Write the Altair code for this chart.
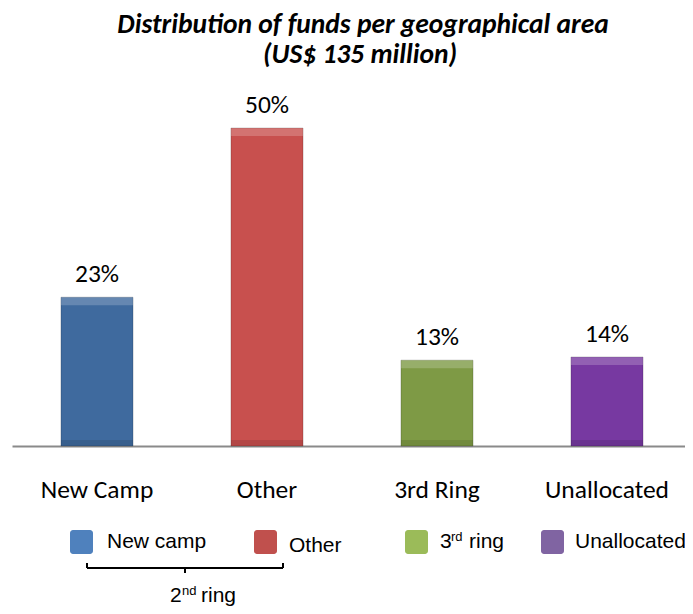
import altair as alt
import pandas as pd

# ---- data ----
categories = ["New Camp", "Other", "3rd Ring", "Unallocated"]
shares = [23.4, 50.0, 13.5, 14.0]
share_labels = ["23%", "50%", "13%", "14%"]
bar_colors = ["#3F6A9E", "#C8504E", "#7E9A45", "#7739A1"]

legend_names = ["New camp", "Other", "3rd ring", "Unallocated"]
legend_colors = ["#4F81BD", "#C0504D", "#9BBB59", "#8064A2"]

title_lines = ["Distribution of funds per geographical area", "(US$ 135 million)"]
group_label = "2nd ring"

FONT = "Carlito, Lato, sans-serif"
LFONT = "Liberation Sans, Arial, sans-serif"

df = pd.DataFrame({"category": categories, "share": shares, "label": share_labels})
df["base"] = 0.0
one = pd.DataFrame({"k": [0]})

xenc = alt.X(
    "category:N",
    sort=categories,
    scale=alt.Scale(range=[0, 680], paddingInner=0.576, paddingOuter=0.288),
    axis=alt.Axis(
        title=None, labelAngle=0, ticks=False, domainColor="#8A8A8A", domainWidth=2,
        labelFont=FONT, labelFontSize=25.5, labelColor="black", labelPadding=51,
        labelBaseline="alphabetic",
    ),
)
yscale = alt.Scale(domain=[0, 50], nice=False, zero=True)
yenc = alt.Y("share:Q", scale=yscale, axis=None)

base = alt.Chart(df).encode(x=xenc, y=yenc)

bars = base.mark_bar(stroke="black", strokeOpacity=0.18, strokeWidth=1).encode(
    color=alt.Color("category:N", scale=alt.Scale(domain=categories, range=bar_colors), legend=None)
)
top_bevel = base.mark_bar(color="white", opacity=0.2, y2Offset=8).encode(y2="share:Q")
bottom_bevel = alt.Chart(df).mark_bar(color="black", opacity=0.1, yOffset=-6).encode(
    x=xenc, y=alt.Y("base:Q", scale=yscale, axis=None), y2="base:Q"
)
labels = base.mark_text(baseline="alphabetic", dy=-15, font=FONT, fontSize=25.5, color="black").encode(
    text="label:N"
)


def txt(s, x, y, size, font, align="left", **kw):
    return alt.Chart(one).mark_text(
        text=s, align=align, baseline="alphabetic", font=font, fontSize=size, color="black", **kw
    ).encode(x=alt.value(x), y=alt.value(y))


def rect(c, x, x2, y, y2):
    return alt.Chart(one).mark_rect(color=c, cornerRadius=3).encode(
        x=alt.value(x), x2=alt.value(x2), y=alt.value(y), y2=alt.value(y2)
    )


def hrule(x, x2, y):
    return alt.Chart(one).mark_rule(color="black", strokeWidth=2).encode(
        x=alt.value(x), x2=alt.value(x2), y=alt.value(y)
    )


def vrule(x, y, y2):
    return alt.Chart(one).mark_rule(color="black", strokeWidth=2).encode(
        x=alt.value(x), y=alt.value(y), y2=alt.value(y2)
    )


layers = [bars, top_bevel, bottom_bevel, labels]

# title
layers.append(txt(title_lines[0], 351, -95, 27.5, FONT, align="center", fontStyle="italic", fontWeight="bold"))
layers.append(txt(title_lines[1], 348, -65, 27.5, FONT, align="center", fontStyle="italic", fontWeight="bold"))

# legend
sq_x = [58, 242, 393, 529]
for c, x in zip(legend_colors, sq_x):
    layers.append(rect(c, x, x + 23, 402, 426))
layers.append(txt(legend_names[0], 95, 420, 21, LFONT))
layers.append(txt(legend_names[1], 277, 424, 21, LFONT))
layers.append(txt(legend_names[2][0], 428, 420, 21, LFONT))
layers.append(txt(legend_names[2][1:3], 439, 413, 13, LFONT))
layers.append(txt(legend_names[2][3:], 457, 420, 21, LFONT))
layers.append(txt(legend_names[3], 563, 420, 21, LFONT))

# bracket for 2nd ring
layers.append(hrule(75, 271, 440))
layers.append(vrule(75, 435, 440))
layers.append(vrule(271, 435, 440))
layers.append(vrule(173, 440, 445))
layers.append(txt(group_label[0], 158, 474, 21, LFONT))
layers.append(txt(group_label[1:3], 170, 467, 13, LFONT))
layers.append(txt(group_label[3:], 189, 474, 21, LFONT))

chart = (
    alt.layer(*layers)
    .properties(
        width=673,
        height=318,
        autosize=alt.AutoSizeParams(type="none"),
        padding={"left": 4, "top": 120, "right": 0, "bottom": 160},
    )
    .configure_view(stroke=None)
)

chart.save("out.html", embed_options={"renderer": "svg", "actions": False})
